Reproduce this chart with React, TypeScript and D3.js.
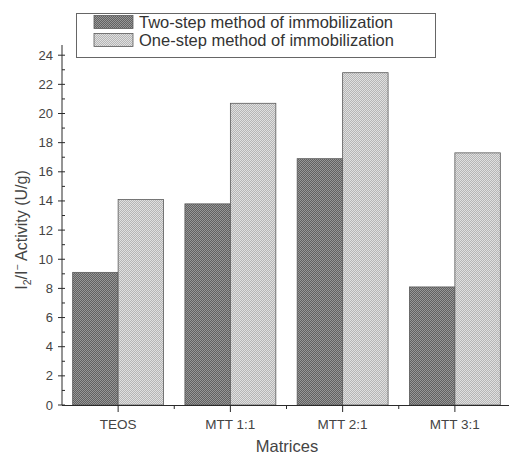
import React, { useEffect, useRef } from "react";
import * as d3 from "d3";

const categories = ["TEOS", "MTT 1:1", "MTT 2:1", "MTT 3:1"];
const seriesNames = ["Two-step method of immobilization", "One-step method of immobilization"];
const twoStep = [9.1, 13.8, 16.9, 8.1];
const oneStep = [14.1, 20.7, 22.8, 17.3];
const yTicks = [0, 2, 4, 6, 8, 10, 12, 14, 16, 18, 20, 22, 24];

const App = () => {
  const ref = useRef<SVGSVGElement>(null);

  useEffect(() => {
    const svg = d3.select(ref.current);
    svg.selectAll("*").remove();
    const font = "'Liberation Sans', Arial, sans-serif";
    const ink = "#2a2a2a";

    const defs = svg.append("defs");
    const mkPattern = (id: string, a: string, b: string) => {
      const p = defs.append("pattern").attr("id", id).attr("width", 2).attr("height", 2)
        .attr("patternUnits", "userSpaceOnUse");
      p.append("rect").attr("width", 2).attr("height", 2).attr("fill", a);
      p.append("rect").attr("width", 1).attr("height", 1).attr("fill", b);
      p.append("rect").attr("x", 1).attr("y", 1).attr("width", 1).attr("height", 1).attr("fill", b);
    };
    mkPattern("darkFill", "#616161", "#979797");
    mkPattern("lightFill", "#b6b6b6", "#e0e0e0");
    const fills = ["url(#darkFill)", "url(#lightFill)"];

    const x = d3.scaleBand().domain(categories).range([62, 511]).paddingInner(0.19).paddingOuter(0.095);
    const xs = d3.scaleBand().domain(["0", "1"]).range([0, x.bandwidth()]);
    const y = d3.scaleLinear().domain([0, 24.7]).range([405, 45]);

    const data = categories.map((c, i) => ({ c, v: [twoStep[i], oneStep[i]] }));

    // bars
    const g = svg.append("g");
    data.forEach((d) => {
      d.v.forEach((v, j) => {
        g.append("rect")
          .attr("x", (x(d.c) as number) + (xs(String(j)) as number))
          .attr("y", y(v))
          .attr("width", xs.bandwidth())
          .attr("height", y(0) - y(v))
          .attr("fill", fills[j])
          .attr("stroke", "#5a5a5a")
          .attr("stroke-width", 0.8);
      });
    });

    // y axis
    const ax = svg.append("g").attr("stroke", ink).attr("stroke-width", 1);
    ax.append("line").attr("x1", 62).attr("x2", 62).attr("y1", 45).attr("y2", 405);
    d3.range(0, 25, 1).forEach((t) => {
      const major = t % 2 === 0;
      ax.append("line").attr("x1", major ? 58 : 62).attr("x2", 65)
        .attr("y1", y(t)).attr("y2", y(t));
    });
    svg.append("g").selectAll("text").data(yTicks).enter().append("text")
      .attr("x", 53).attr("y", (d) => y(d) + 4.5)
      .attr("text-anchor", "end").attr("font-family", font).attr("font-size", 13)
      .attr("fill", "#444").text((d) => d);

    // x axis
    ax.append("line").attr("x1", 62).attr("x2", 509).attr("y1", 405.5).attr("y2", 405.5);
    categories.forEach((c) => {
      const cx = (x(c) as number) + x.bandwidth() / 2;
      ax.append("line").attr("x1", cx).attr("x2", cx).attr("y1", 405).attr("y2", 412);
      const bx = cx + x.step() / 2;
      if (bx < 509) ax.append("line").attr("x1", bx).attr("x2", bx).attr("y1", 405).attr("y2", 409);
    });
    svg.append("g").selectAll("text").data(categories).enter().append("text")
      .attr("x", (d) => (x(d) as number) + x.bandwidth() / 2).attr("y", 429)
      .attr("text-anchor", "middle").attr("font-family", font).attr("font-size", 13.5)
      .attr("fill", "#444").text((d) => d);

    // axis titles
    svg.append("text").attr("x", 287).attr("y", 452).attr("text-anchor", "middle")
      .attr("font-family", font).attr("font-size", 16.5).attr("fill", "#444").text("Matrices");

    const yt = svg.append("text").attr("transform", "translate(27,230) rotate(-90)")
      .attr("text-anchor", "middle").attr("font-family", font).attr("font-size", 16)
      .attr("fill", "#444");
    yt.append("tspan").text("I");
    yt.append("tspan").attr("font-size", 10.5).attr("dy", 4).text("2");
    yt.append("tspan").attr("dy", -4).text("/I");
    yt.append("tspan").attr("font-size", 10.5).attr("dy", -6).text("−");
    yt.append("tspan").attr("dy", 6).text(" Activity (U/g)");

    // legend
    const lg = svg.append("g");
    lg.append("rect").attr("x", 76.5).attr("y", 13.5).attr("width", 359).attr("height", 44)
      .attr("fill", "white").attr("stroke", "#666").attr("stroke-width", 1);
    seriesNames.forEach((s, i) => {
      const ry = 15.5 + i * 18;
      lg.append("rect").attr("x", 94).attr("y", ry).attr("width", 39).attr("height", 13)
        .attr("fill", fills[i]).attr("stroke", "#5a5a5a").attr("stroke-width", 0.8);
      lg.append("text").attr("x", 139).attr("y", ry + 12.5).attr("font-family", font)
        .attr("font-size", 16.5).attr("fill", "#333").text(s);
    });
  }, []);

  return <svg ref={ref} width={509} height={457} style={{ position: "absolute", left: 0, top: 0, background: "white" }} />;
};

export default App;
